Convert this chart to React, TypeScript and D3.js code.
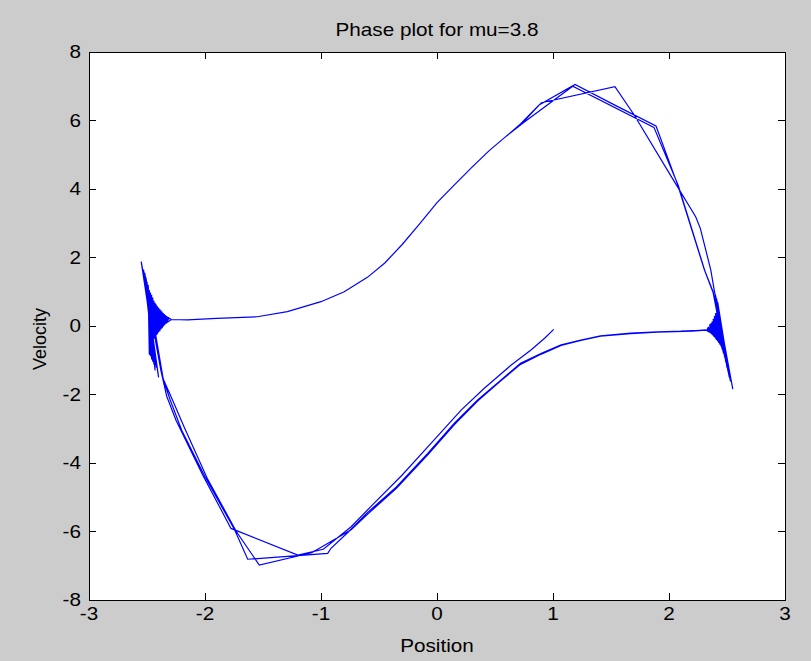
import React from "react";
import * as d3 from "d3";

const xTicks = [-3, -2, -1, 0, 1, 2, 3];
const yTicks = [-8, -6, -4, -2, 0, 2, 4, 6, 8];
const titleText = "Phase plot for mu=3.8";
const xLabel = "Position";
const yLabel = "Velocity";

// trajectory pieces: [position, velocity]
const lower1: [number, number][] = [
  [1.006, -0.1], [0.93, -0.35], [0.81, -0.7], [0.64, -1.14], [0.41, -1.81], [0.21, -2.45],
  [-0.05, -3.42], [-0.3, -4.35], [-0.55, -5.2], [-0.74, -5.86], [-0.98, -6.52], [-1.2, -6.69],
  [-1.776, -5.91], [-2.02, -4.35], [-2.25, -2.75], [-2.33, -2.05], [-2.38, -1.3],
];
const leftFan1: [number, number][] = [
  [-2.55, 1.88], [-2.4, -1.5], [-2.53, 1.65], [-2.43, -1.3], [-2.52, 1.45], [-2.44, -1.12],
  [-2.5, 1.28], [-2.46, -0.95], [-2.49, 1.12], [-2.47, -0.8], [-2.47, 0.98], [-2.47, -0.66],
  [-2.46, 0.85], [-2.46, -0.53], [-2.44, 0.74], [-2.45, -0.42], [-2.42, 0.63], [-2.43, -0.32],
  [-2.4, 0.54], [-2.41, -0.22], [-2.38, 0.46], [-2.39, -0.13], [-2.36, 0.38], [-2.37, -0.05],
  [-2.34, 0.32], [-2.35, 0.03], [-2.32, 0.26], [-2.33, 0.1], [-2.29, 0.19],
];
const upper1: [number, number][] = [
  [-2.15, 0.18], [-1.9, 0.22], [-1.55, 0.27], [-1.29, 0.42], [-1.0, 0.71], [-0.8, 1.0],
  [-0.6, 1.42], [-0.45, 1.84], [-0.3, 2.38], [-0.15, 2.98], [0.0, 3.6], [0.15, 4.12],
  [0.3, 4.63], [0.45, 5.12], [0.6, 5.55], [0.72, 5.87], [0.9, 6.52], [1.534, 6.99],
  [1.7, 6.16], [2.02, 4.36], [2.23, 3.19], [2.27, 2.85], [2.36, 1.64],
];
const rightFan1: [number, number][] = [
  [2.39, 1.05], [2.55, -1.84], [2.4, 0.92], [2.53, -1.6], [2.41, 0.8], [2.52, -1.4],
  [2.42, 0.69], [2.5, -1.22], [2.42, 0.59], [2.49, -1.06], [2.42, 0.5], [2.48, -0.92],
  [2.42, 0.41], [2.47, -0.8], [2.41, 0.33], [2.46, -0.68], [2.4, 0.25], [2.45, -0.57],
  [2.39, 0.18], [2.43, -0.47], [2.37, 0.1], [2.41, -0.38], [2.35, 0.03], [2.39, -0.3],
  [2.34, -0.03], [2.37, -0.23], [2.33, -0.08], [2.35, -0.17], [2.32, -0.11],
];
const lower2: [number, number][] = [
  [2.2, -0.14], [1.9, -0.17], [1.67, -0.21], [1.41, -0.29], [1.24, -0.41], [1.07, -0.55],
  [0.9, -0.8], [0.72, -1.09], [0.55, -1.58], [0.35, -2.16], [0.15, -2.84], [-0.08, -3.72],
  [-0.35, -4.7], [-0.6, -5.45], [-0.76, -6.0], [-0.914, -6.49], [-0.942, -6.64], [-1.632, -6.81],
  [-1.745, -5.95], [-2.0, -4.4], [-2.2, -3.05], [-2.3, -2.16], [-2.37, -1.45],
];
const leftFan2: [number, number][] = [
  [-2.52, 1.55], [-2.42, -1.22], [-2.51, 1.36], [-2.45, -1.04], [-2.49, 1.2], [-2.47, -0.88],
  [-2.48, 1.05], [-2.48, -0.73], [-2.46, 0.91], [-2.47, -0.6], [-2.45, 0.8], [-2.46, -0.48],
  [-2.43, 0.68], [-2.44, -0.37], [-2.41, 0.58], [-2.42, -0.27], [-2.39, 0.5], [-2.4, -0.18],
  [-2.37, 0.42], [-2.38, -0.09], [-2.35, 0.35], [-2.36, -0.01], [-2.33, 0.29], [-2.34, 0.07],
  [-2.31, 0.23], [-2.29, 0.19],
];
const upper2: [number, number][] = [
  [-2.15, 0.18], [-1.9, 0.22], [-1.55, 0.27], [-1.29, 0.42], [-1.0, 0.71], [-0.8, 1.0],
  [-0.6, 1.42], [-0.45, 1.84], [-0.3, 2.38], [-0.15, 2.98], [0.0, 3.6], [0.15, 4.12],
  [0.3, 4.63], [0.45, 5.12], [0.6, 5.55], [0.72, 5.9], [0.88, 6.45], [1.19, 7.05],
  [1.55, 6.42], [1.888, 5.84], [2.075, 4.12], [2.305, 1.64],
];
const rightFan2: [number, number][] = [
  [2.38, 1.0], [2.53, -1.62], [2.39, 0.88], [2.52, -1.45], [2.4, 0.76], [2.51, -1.28],
  [2.41, 0.66], [2.5, -1.13], [2.41, 0.56], [2.49, -0.99], [2.41, 0.47], [2.48, -0.86],
  [2.41, 0.39], [2.47, -0.75], [2.4, 0.31], [2.46, -0.64], [2.39, 0.23], [2.44, -0.54],
  [2.38, 0.16], [2.42, -0.44], [2.36, 0.08], [2.4, -0.35], [2.35, 0.01], [2.38, -0.27],
  [2.33, -0.05], [2.36, -0.2], [2.32, -0.12],
];
const lower3: [number, number][] = [
  [2.2, -0.15], [1.9, -0.18], [1.67, -0.22], [1.41, -0.3], [1.24, -0.42], [1.07, -0.57],
  [0.9, -0.82], [0.72, -1.12], [0.55, -1.6], [0.35, -2.19], [0.15, -2.88], [-0.08, -3.76],
  [-0.35, -4.74], [-0.6, -5.5], [-0.74, -5.95], [-1.08, -6.62], [-1.532, -6.98], [-1.73, -6.0],
  [-1.98, -4.45], [-2.18, -2.95], [-2.28, -2.16], [-2.36, -1.55],
];
const leftFan3: [number, number][] = [
  [-2.51, 1.42], [-2.43, -1.15], [-2.5, 1.25], [-2.46, -0.98], [-2.49, 1.1], [-2.48, -0.84],
  [-2.47, 0.95], [-2.48, -0.69], [-2.45, 0.83], [-2.47, -0.56], [-2.44, 0.71], [-2.45, -0.45],
  [-2.42, 0.61], [-2.43, -0.34], [-2.4, 0.52], [-2.41, -0.24], [-2.38, 0.44], [-2.39, -0.15],
  [-2.36, 0.37], [-2.37, -0.06], [-2.34, 0.3], [-2.35, 0.04], [-2.32, 0.25], [-2.29, 0.19],
];
const upper3: [number, number][] = [
  [-2.15, 0.18], [-1.9, 0.22], [-1.55, 0.27], [-1.29, 0.42], [-1.0, 0.71], [-0.8, 1.0],
  [-0.6, 1.42], [-0.45, 1.84], [-0.3, 2.38], [-0.15, 2.98], [0.0, 3.6], [0.15, 4.12],
  [0.3, 4.63], [0.45, 5.12], [0.6, 5.55], [0.75, 5.95], [1.17, 7.0], [1.87, 5.8],
  [2.08, 4.1], [2.31, 1.6],
];
const rightFan3: [number, number][] = [
  [2.38, 0.98], [2.52, -1.5], [2.39, 0.85], [2.51, -1.34], [2.4, 0.73], [2.5, -1.18],
  [2.41, 0.63], [2.49, -1.04], [2.41, 0.54], [2.48, -0.91], [2.41, 0.45], [2.47, -0.8],
  [2.4, 0.37], [2.46, -0.69], [2.39, 0.29], [2.45, -0.59], [2.38, 0.21], [2.43, -0.49],
  [2.37, 0.13], [2.41, -0.4], [2.35, 0.05], [2.39, -0.31], [2.34, -0.02], [2.37, -0.24],
  [2.33, -0.07], [2.35, -0.18], [2.32, -0.12], [2.1, -0.15],
];

const trajectory = [
  ...lower1, ...leftFan1, ...upper1, ...rightFan1,
  ...lower2, ...leftFan2, ...upper2, ...rightFan2,
  ...lower3, ...leftFan3, ...upper3, ...rightFan3,
];

const W = 811;
const H = 661;
const left = 89;
const right = 785;
const top = 52;
const bottom = 600;
const tickLen = 7;
const font = "'Liberation Sans', Arial, Helvetica, sans-serif";
const fs = 18;
const sx = 1.15;

function HText({ x, y, anchor, children }: { x: number; y: number; anchor: string; children: any }) {
  return (
    <text
      transform={`translate(${x}, ${y}) scale(${sx}, 1)`}
      textAnchor={anchor}
      fontFamily={font}
      fontSize={fs}
      fill="#000"
    >
      {children}
    </text>
  );
}

export default function App() {
  const x = d3.scaleLinear().domain([-3, 3]).range([left, right]);
  const y = d3.scaleLinear().domain([-8, 8]).range([bottom, top]);
  const line = d3
    .line<[number, number]>()
    .x((d) => x(d[0]))
    .y((d) => y(d[1]));

  return (
    <svg
      width={W}
      height={H}
      style={{ position: "absolute", left: 0, top: 0, display: "block" }}
    >
      <rect x={0} y={0} width={W} height={H} fill="#cccccc" />
      <rect x={left} y={top} width={right - left} height={bottom - top} fill="#ffffff" />
      <path d={line(trajectory) || ""} fill="none" stroke="#0000ff" strokeWidth={1.2} strokeLinejoin="miter" />
      <rect
        x={left}
        y={top}
        width={right - left}
        height={bottom - top}
        fill="none"
        stroke="#000000"
        strokeWidth={1}
        shapeRendering="crispEdges"
      />
      {xTicks.map((t) => (
        <g key={"x" + t}>
          <line x1={x(t)} x2={x(t)} y1={bottom} y2={bottom - tickLen} stroke="#000" shapeRendering="crispEdges" />
          <line x1={x(t)} x2={x(t)} y1={top} y2={top + tickLen} stroke="#000" shapeRendering="crispEdges" />
          <HText x={x(t)} y={bottom + 20} anchor="middle">{t}</HText>
        </g>
      ))}
      {yTicks.map((t) => (
        <g key={"y" + t}>
          <line x1={left} x2={left + tickLen} y1={y(t)} y2={y(t)} stroke="#000" shapeRendering="crispEdges" />
          <line x1={right} x2={right - tickLen} y1={y(t)} y2={y(t)} stroke="#000" shapeRendering="crispEdges" />
          <HText x={left - 8} y={y(t) + 6} anchor="end">{t}</HText>
        </g>
      ))}
      <HText x={(left + right) / 2} y={36} anchor="middle">{titleText}</HText>
      <HText x={(left + right) / 2} y={652} anchor="middle">{xLabel}</HText>
      <text
        transform={`translate(46, 339) rotate(-90)`}
        textAnchor="middle"
        fontFamily={font}
        fontSize={fs}
        fill="#000"
      >
        {yLabel}
      </text>
    </svg>
  );
}
